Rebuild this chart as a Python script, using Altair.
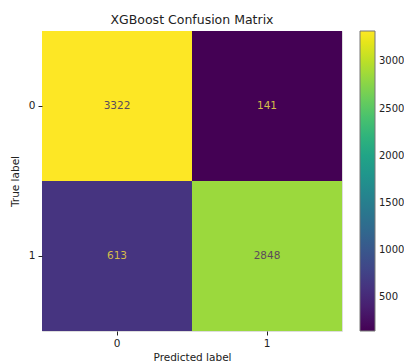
import altair as alt
import pandas as pd

true_labels = ["0", "0", "1", "1"]
pred_labels = ["0", "1", "0", "1"]
counts = [3322, 141, 613, 2848]
class_ticks = ["0", "1"]
colorbar_ticks = [500, 1000, 1500, 2000, 2500, 3000]

df = pd.DataFrame({"true": true_labels, "pred": pred_labels, "count": counts})
cmin, cmax = min(counts), max(counts)
thresh = (cmin + cmax) / 2

FONT = "DejaVu Sans"

base = alt.Chart(df)

x = alt.X("pred:N", sort=class_ticks, title="Predicted label",
          scale=alt.Scale(paddingInner=0, paddingOuter=0),
          axis=alt.Axis(labelAngle=0, tickSize=4, tickColor="#222", domain=False,
                        labelPadding=3, titlePadding=4, labelFontSize=10.5,
                        titleFontSize=10.5, labelColor="#222", titleColor="#222",
                        labelFont=FONT, titleFont=FONT, titleFontWeight="normal"))
y = alt.Y("true:N", sort=class_ticks, title="True label",
          scale=alt.Scale(paddingInner=0, paddingOuter=0),
          axis=alt.Axis(tickSize=4, tickColor="#222", domain=False,
                        labelPadding=3, titlePadding=8, labelFontSize=10.5,
                        titleFontSize=10.5, labelColor="#222", titleColor="#222",
                        labelFont=FONT, titleFont=FONT, titleFontWeight="normal"))

rects = base.mark_rect().encode(
    x=x, y=y,
    color=alt.Color("count:Q",
                    scale=alt.Scale(scheme="viridis", domain=[cmin, cmax], nice=False, zero=False),
                    legend=alt.Legend(title=None, values=colorbar_ticks, format="d",
                                      gradientLength=300,
                                      gradientThickness=15, gradientStrokeColor="#777",
                                      gradientStrokeWidth=1, labelFontSize=10, labelFont=FONT,
                                      labelColor="#222", labelOffset=4, offset=18,
                                      orient="right", direction="vertical")),
)

texts = base.mark_text(font=FONT, fontSize=10.5).encode(
    x=alt.X("pred:N", sort=class_ticks),
    y=alt.Y("true:N", sort=class_ticks),
    text=alt.Text("count:Q", format="d"),
    color=alt.condition(alt.datum.count > thresh, alt.value("#5b4b5b"), alt.value("#d4bc4a")),
)

chart = (rects + texts).properties(
    width=300, height=300,
    title=alt.TitleParams("XGBoost Confusion Matrix", font=FONT, fontSize=12.5,
                          fontWeight="normal", color="#222", offset=5, anchor="middle"),
    autosize=alt.AutoSizeParams(type="none"),
    padding={"left": 34, "top": 23, "right": 62, "bottom": 40},
).configure_view(stroke="#444", strokeWidth=1).configure(background="white")

chart.save("out.html", embed_options={"renderer": "svg", "actions": False})
